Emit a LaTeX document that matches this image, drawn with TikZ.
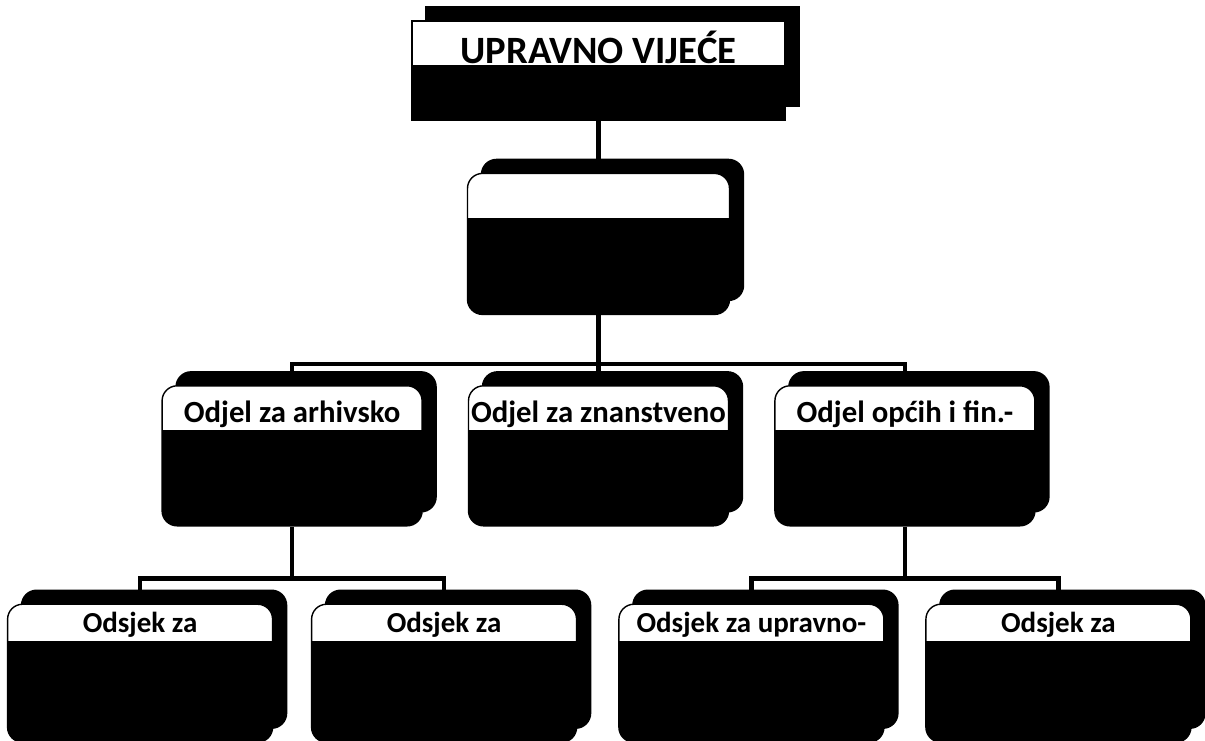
\documentclass[tikz,border=0pt]{standalone}
\usepackage{fontspec}
\setmainfont{Carlito}
\usetikzlibrary{positioning,shadows}

\begin{document}
\begin{tikzpicture}[lower/.style={path picture={\fill[black, sharp corners] ([yshift=-#1]path picture bounding box.north west) rectangle (path picture bounding box.south east);}},
  orgbox/.style={draw=black, thick, fill=white, inner sep=0pt, font=\bfseries\fontsize{17.5}{20}\selectfont, copy shadow={shadow xshift=0.28cm, shadow yshift=0.28cm, fill=black, draw=black}},
  boardnode/.style={orgbox, minimum width=7.46cm, text height=0.84cm, text depth=1.14cm, lower=0.88cm, font=\bfseries\fontsize{22}{24}\selectfont},
  headnode/.style={orgbox, rounded corners=0.3cm, minimum width=5.24cm, text height=0.74cm, text depth=2.08cm, lower=0.9cm},
  deptnode/.style={orgbox, rounded corners=0.3cm, minimum width=5.2cm, text height=0.74cm, text depth=2.06cm, lower=0.88cm},
  secnode/.style={orgbox, rounded corners=0.3cm, minimum width=5.3cm, text height=0.56cm, text depth=2.2cm, lower=0.74cm, font=\bfseries\fontsize{16.5}{18}\selectfont},
  link/.style={line width=2.4pt}]
		\useasboundingbox (0,0) rectangle (24.1,-14.8);
		\clip (0,0) rectangle (24.1,-14.8);
		\node[boardnode] (vijece) at (11.97,-1.41) {UPRAVNO VIJEĆE};
		\node[headnode] (ravnatelj) [below=1.04cm of vijece] {};
		\node[deptnode] (znanstveno) [below=1.4cm of ravnatelj] {Odjel za znanstveno};
		\node[deptnode] (arhivsko) [left=0.9cm of znanstveno] {Odjel za arhivsko};
		\node[deptnode] (opci) [right=0.9cm of znanstveno] {Odjel općih i fin.-};
		\node[secnode] (konv) [below=1.54cm of arhivsko, xshift=-3.04cm] {Odsjek za};
		\node[secnode] (nekonv) [below=1.54cm of arhivsko, xshift=3.04cm] {Odsjek za};
		\node[secnode] (upravno) [below=1.54cm of opci, xshift=-3.07cm] {Odsjek za upravno-};
		\node[secnode] (racunov) [below=1.54cm of opci, xshift=3.07cm] {Odsjek za};
		%\draw[link] (ravnatelj.south) -- (opci.north);
		\draw[link] (vijece.south) -- (ravnatelj.north);
		\draw[link] (ravnatelj.south) -- (znanstveno.north);
		\draw[link] (arhivsko.north) -- ++(0,0.42) -| (opci.north);
		\draw[link] (arhivsko.south) -- ++(0,-1.04);
		\draw[link] (konv.north) -- ++(0,0.5) -| (nekonv.north);
		\draw[link] (opci.south) -- ++(0,-1.04);
		\draw[link] (upravno.north) -- ++(0,0.5) -| (racunov.north);
	\end{tikzpicture}
\end{document}
